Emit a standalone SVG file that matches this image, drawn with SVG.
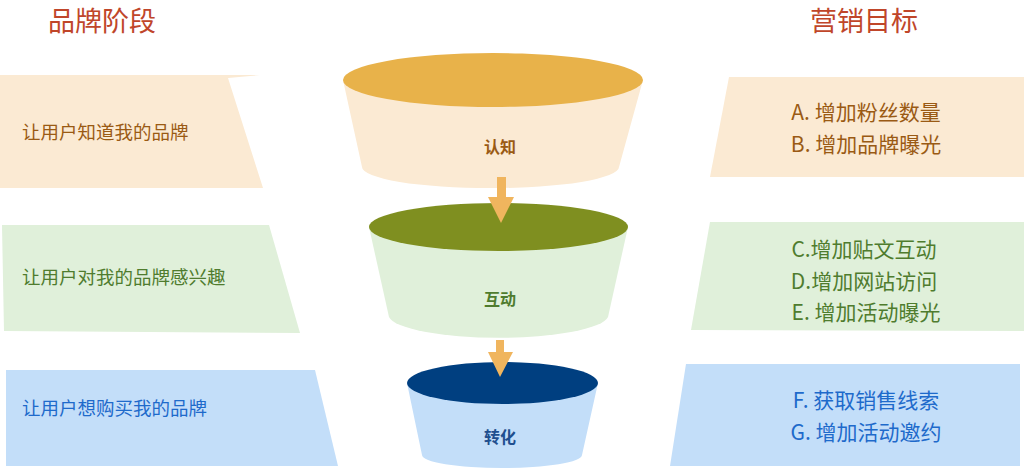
<svg xmlns="http://www.w3.org/2000/svg" width="1024" height="473" viewBox="0 0 1024 473">
<style>
text{font-family:"Microsoft YaHei","Noto Sans CJK SC",sans-serif}
.title{font-size:27px;fill:#C0462A}
.lt{font-size:18.5px}
.rt{font-size:21px;text-anchor:middle}
.fl{font-size:16px;font-weight:bold;text-anchor:middle}
.o{fill:#9A5A14}.g{fill:#4F7C2E}.b{fill:#1E6ACB}
.arrow{fill:#F0B55E}
</style>
<rect width="1024" height="473" fill="#fff"/>
<text class="title" x="48" y="31">品牌阶段</text>
<text class="title" x="810" y="31">营销目标</text>

<g id="left1"><polygon points="0,75 260,75 228,78 263,188 0,188" fill="#FBEAD3"/><text class="lt o" x="22" y="139">让用户知道我的品牌</text></g>
<g id="left2"><polygon points="2,225 269,225 300,333 4,331" fill="#E0F0DA"/><text class="lt g" x="22" y="284">让用户对我的品牌感兴趣</text></g>
<g id="left3"><polygon points="6,370 315,370 338,466 6,466" fill="#C3DEF9"/><text class="lt b" x="22" y="415">让用户想购买我的品牌</text></g>

<g id="right1"><polygon points="729,77 1024,77 1024,177 710,177" fill="#FBEAD3"/>
<text class="rt o" x="866" y="120">A. 增加粉丝数量</text><text class="rt o" x="866" y="152">B. 增加品牌曝光</text></g>
<g id="right2"><polygon points="710,222 1024,222 1024,331 691,330" fill="#E0F0DA"/>
<text class="rt g" x="864" y="257">C.增加贴文互动</text><text class="rt g" x="864" y="289">D.增加网站访问</text><text class="rt g" x="866" y="320">E.  增加活动曝光</text></g>
<g id="right3"><polygon points="686,364 1020,364 1020,466 670,466" fill="#C3DEF9"/>
<text class="rt b" x="866" y="408">F. 获取销售线索</text><text class="rt b" x="866" y="440">G. 增加活动邀约</text></g>

<g id="funnel1">
<path d="M343,80 L362,167 A128,21 0 0 0 619,167 L643,80 Z" fill="#FBEAD3"/>
<ellipse cx="493" cy="80" rx="150" ry="27" fill="#E8B24A"/>
<text class="fl o" x="500" y="153">认知</text></g>
<g id="funnel2">
<path d="M369,227 L389,317 A110,23 0 0 0 608,317 L628,227 Z" fill="#E0F0DA"/>
<ellipse cx="498.5" cy="227" rx="129.5" ry="24" fill="#7F8F20"/>
<text class="fl g" x="500" y="305">互动</text></g>
<g id="funnel3">
<path d="M407,383 L422,455 A80,13 0 0 0 582,455 L598,383 Z" fill="#C3DEF9"/>
<ellipse cx="502.5" cy="383" rx="95.5" ry="21" fill="#003F80"/>
<text class="fl" x="500" y="443" fill="#1F4F8F">转化</text></g>

<g id="connectors">
<polygon class="arrow" points="497,177 506,177 506,197 514,197 501,223 488,197 497,197"/>
<polygon class="arrow" points="496,340 504,340 504,352 513,352 500,377 488,352 496,352"/>
</g>
</svg>
